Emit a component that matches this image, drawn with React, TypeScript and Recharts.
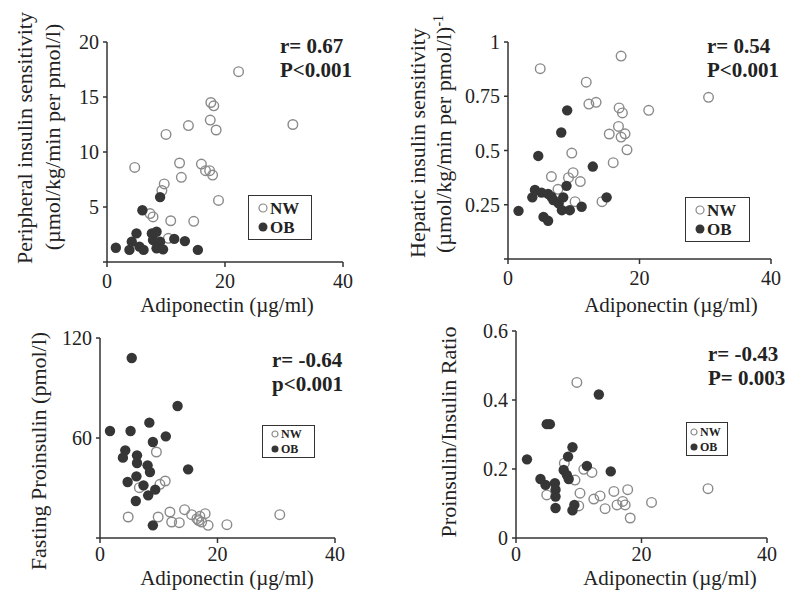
import React from "react";
import { ScatterChart, Scatter, XAxis, YAxis, Legend } from "recharts";

type Pt = [number, number];

// adiponectin (µg/ml) vs outcome
const xTicks = [0, 20, 40];

const periNW: Pt[] = [
  [22.3, 17.3], [17.6, 14.5], [18.1, 14.2], [17.5, 12.9], [18.5, 12.0], [31.5, 12.5],
  [13.8, 12.4], [10.0, 11.6], [4.7, 8.6], [12.3, 9.0], [12.6, 7.7], [16.0, 8.9],
  [16.7, 8.3], [17.4, 8.3], [17.9, 7.9], [9.7, 7.1], [9.3, 6.5], [18.9, 5.6],
  [7.3, 4.4], [7.8, 4.1], [10.8, 3.75], [14.7, 3.7], [10.4, 2.15],
];
const periOB: Pt[] = [
  [9.0, 5.9], [6.0, 4.7], [1.5, 1.3], [3.8, 1.1], [4.2, 1.85], [5.0, 2.6],
  [5.5, 1.4], [6.2, 1.1], [7.6, 2.6], [8.4, 2.75], [7.8, 2.0], [9.0, 1.85],
  [8.4, 1.25], [9.5, 1.15], [11.4, 2.1], [13.2, 1.9], [15.4, 1.1],
];
const periTicks = [0, 5, 10, 15, 20];

const hepNW: Pt[] = [
  [17.2, 0.935], [4.9, 0.877], [11.9, 0.815], [12.3, 0.714], [13.4, 0.722], [30.5, 0.745],
  [21.4, 0.685], [16.9, 0.696], [17.4, 0.673], [16.8, 0.611], [15.4, 0.576], [17.8, 0.577],
  [17.2, 0.562], [18.1, 0.503], [9.7, 0.488], [16.0, 0.444], [9.9, 0.398], [6.6, 0.38],
  [9.2, 0.375], [11.0, 0.357], [7.6, 0.321], [14.3, 0.264], [10.2, 0.264],
];
const hepOB: Pt[] = [
  [9.0, 0.685], [8.1, 0.583], [4.6, 0.475], [12.9, 0.426], [8.9, 0.337], [4.1, 0.318],
  [3.7, 0.284], [5.1, 0.306], [6.1, 0.3], [6.6, 0.287], [6.9, 0.272], [7.7, 0.256],
  [8.4, 0.284], [8.2, 0.225], [9.4, 0.225], [11.2, 0.241], [15.0, 0.284], [1.6, 0.222],
  [5.4, 0.194], [6.1, 0.176],
];
const hepTicks = [0, 0.25, 0.5, 0.75, 1];

const proNW: Pt[] = [
  [9.6, 51.6], [6.7, 30.2], [10.2, 32.2], [11.1, 34.2], [4.8, 12.6], [9.9, 12.6],
  [11.9, 15.6], [12.2, 9.6], [13.5, 9.2], [14.4, 17.0], [15.6, 14.0], [16.5, 11.6],
  [17.0, 13.0], [17.9, 14.6], [17.3, 9.6], [16.8, 10.5], [18.4, 7.6], [21.6, 8.0],
  [30.6, 14.0],
];
const proOB: Pt[] = [
  [5.4, 108], [13.2, 79.2], [1.7, 64.2], [5.2, 64.2], [8.4, 69.2], [11.2, 61.0],
  [9.0, 57.6], [4.3, 52.6], [3.9, 48.2], [6.3, 49.6], [6.3, 45.0], [8.1, 43.6],
  [8.5, 39.6], [15.0, 41.2], [6.2, 37.0], [4.7, 33.6], [7.4, 31.6], [9.4, 29.0],
  [8.2, 25.6], [6.1, 22.2], [9.0, 7.6],
];
const proTicks = [0, 60, 120];

const ratioNW: Pt[] = [
  [9.7, 0.451], [30.6, 0.143], [7.7, 0.217], [10.8, 0.199], [12.1, 0.19], [9.4, 0.168],
  [4.9, 0.125], [10.2, 0.13], [12.4, 0.113], [13.4, 0.122], [15.6, 0.135], [17.8, 0.14],
  [14.2, 0.085], [16.1, 0.096], [17.0, 0.106], [17.4, 0.096], [18.2, 0.058], [21.6, 0.103],
  [10.0, 0.093],
];
const ratioOB: Pt[] = [
  [13.2, 0.416], [5.4, 0.33], [4.9, 0.33], [9.0, 0.263], [8.3, 0.236], [1.75, 0.228],
  [11.3, 0.209], [15.1, 0.193], [7.6, 0.197], [8.1, 0.183], [8.4, 0.171], [3.9, 0.171],
  [4.7, 0.154], [6.2, 0.159], [6.3, 0.14], [6.3, 0.12], [6.3, 0.087], [9.3, 0.096],
  [9.0, 0.08],
];
const ratioTicks = [0, 0.2, 0.4, 0.6];

const FONT = '"Liberation Serif", "Times New Roman", serif';
const INK = "#222";
const NW_STROKE = "#8a8a8a";
const OB_FILL = "#363636";

const axisStyle = { stroke: "#333", strokeWidth: 1.5 };
const tickStyle = { fill: INK, fontSize: 20, fontFamily: FONT };

const hideZero = (v: number) => (v === 0 ? "" : String(v));

const openDot = (p: any) => (
  <circle cx={p.cx} cy={p.cy} r={4.8} fill="none" stroke={NW_STROKE} strokeWidth={1.4} />
);
const filledDot = (p: any) => (
  <circle cx={p.cx} cy={p.cy} r={5.2} fill={OB_FILL} />
);

type LegendBox = { left: number; top: number; width: number; height: number; font: number; row: number; r: number; padX: number };

const makeLegend = (lg: LegendBox) => (props: any) => {
  const items = (props.payload || []).map((e: any) => String(e.value));
  return (
    <div
      style={{
        width: lg.width,
        height: lg.height,
        boxSizing: "border-box",
        border: "1.5px solid #333",
        display: "flex",
        flexDirection: "column",
        justifyContent: "center",
        paddingLeft: lg.padX,
        fontFamily: FONT,
        fontWeight: "bold",
        fontSize: lg.font,
        color: INK,
      }}
    >
      {items.map((name: string) => (
        <div key={name} style={{ height: lg.row, display: "flex", alignItems: "center" }}>
          <svg width={lg.r * 2 + 2} height={lg.r * 2 + 2} style={{ marginRight: 2 }}>
            {name === "NW" ? (
              <circle cx={lg.r + 1} cy={lg.r + 1} r={lg.r} fill="none" stroke={NW_STROKE} strokeWidth={1.2} />
            ) : (
              <circle cx={lg.r + 1} cy={lg.r + 1} r={lg.r + 0.5} fill={OB_FILL} />
            )}
          </svg>
          <span style={{ lineHeight: 1 }}>{name}</span>
        </div>
      ))}
    </div>
  );
};

type PanelCfg = {
  left: number;
  top: number;
  width: number;
  height: number;
  margin: { top: number; right: number; bottom: number; left: number };
  nw: Pt[];
  ob: Pt[];
  yDomain: [number, number];
  yTicks: number[];
  yFmt: (v: number) => string;
  yLines: { text: string; sup?: string; x: number; y: number }[];
  xLabel: { x: number; y: number };
  xTickGap: number;
  note: { left: number; top: number; lines: string[] };
  legend: LegendBox;
};

const panels: PanelCfg[] = [
  {
    left: 0, top: 0, width: 393, height: 320,
    margin: { top: 42, right: 50, bottom: 18, left: 67 },
    nw: periNW, ob: periOB,
    yDomain: [0, 20], yTicks: periTicks, yFmt: hideZero,
    yLines: [
      { text: "Peripheral insulin sensitivity", x: 32, y: 138 },
      { text: "(µmol/kg/min per pmol/l)", x: 60, y: 137 },
    ],
    xLabel: { x: 227, y: 312 },
    xTickGap: 7,
    note: { left: 280, top: 34, lines: ["r= 0.67", "P<0.001"] },
    legend: { left: 248, top: 195, width: 64, height: 45, font: 17, row: 19, r: 4, padX: 9 },
  },
  {
    left: 393, top: 0, width: 394, height: 320,
    margin: { top: 42, right: 16, bottom: 21, left: 75 },
    nw: hepNW, ob: hepOB,
    yDomain: [0, 1], yTicks: hepTicks, yFmt: hideZero,
    yLines: [
      { text: "Hepatic insulin sensitivity", x: 32, y: 143 },
      { text: "(µmol/kg/min per pmol/l)", sup: "-1", x: 58, y: 134 },
    ],
    xLabel: { x: 278, y: 312 },
    xTickGap: 7,
    note: { left: 314, top: 34, lines: ["r= 0.54", "P<0.001"] },
    legend: { left: 292, top: 197, width: 65, height: 45, font: 17, row: 19, r: 4, padX: 9 },
  },
  {
    left: 0, top: 320, width: 393, height: 270,
    margin: { top: 18, right: 58, bottom: 12, left: 60 },
    nw: proNW, ob: proOB,
    yDomain: [0, 120], yTicks: proTicks, yFmt: hideZero,
    yLines: [{ text: "Fasting Proinsulin (pmol/l)", x: 46, y: 131 }],
    xLabel: { x: 227, y: 265 },
    xTickGap: 4,
    note: { left: 272, top: 28, lines: ["r= -0.64", "p<0.001"] },
    legend: { left: 262, top: 105, width: 53, height: 33, font: 12, row: 15, r: 3, padX: 8 },
  },
  {
    left: 393, top: 320, width: 394, height: 270,
    margin: { top: 11, right: 20, bottom: 12, left: 83 },
    nw: ratioNW, ob: ratioOB,
    yDomain: [0, 0.6], yTicks: ratioTicks, yFmt: (v) => String(v),
    yLines: [{ text: "Proinsulin/Insulin Ratio", x: 63, y: 112 }],
    xLabel: { x: 277, y: 265 },
    xTickGap: 4,
    note: { left: 315, top: 22, lines: ["r= -0.43", "P= 0.003"] },
    legend: { left: 293, top: 102, width: 42, height: 34, font: 12, row: 15, r: 3, padX: 3 },
  },
];

function Panel({ cfg }: { cfg: PanelCfg }) {
  const nw = cfg.nw.map(([x, y]) => ({ x, y }));
  const ob = cfg.ob.map(([x, y]) => ({ x, y }));

  const xLabel = () => (
    <text x={cfg.xLabel.x} y={cfg.xLabel.y} textAnchor="middle" fontSize={21} fontFamily={FONT} fill={INK}>
      Adiponectin (µg/ml)
    </text>
  );

  const yLabel = () => (
    <g>
      {cfg.yLines.map((l) => (
        <text
          key={l.text}
          x={l.x}
          y={l.y}
          transform={`rotate(-90, ${l.x}, ${l.y})`}
          textAnchor="middle"
          fontSize={22}
          fontFamily={FONT}
          fill={INK}
        >
          {l.text}
          {l.sup && (
            <tspan dy={-8} fontSize={14}>
              {l.sup}
            </tspan>
          )}
        </text>
      ))}
    </g>
  );

  return (
    <div style={{ position: "absolute", left: cfg.left, top: cfg.top, width: cfg.width, height: cfg.height }}>
      <ScatterChart width={cfg.width} height={cfg.height} margin={cfg.margin}>
        <XAxis
          type="number"
          dataKey="x"
          domain={[0, 40]}
          ticks={xTicks}
          interval={0}
          height={40}
          tick={tickStyle}
          tickSize={5}
          tickMargin={cfg.xTickGap}
          axisLine={axisStyle}
          tickLine={axisStyle}
          label={xLabel}
        />
        <YAxis
          type="number"
          dataKey="y"
          domain={cfg.yDomain}
          ticks={cfg.yTicks}
          interval={0}
          width={40}
          tick={tickStyle}
          tickFormatter={cfg.yFmt}
          tickSize={4}
          tickMargin={4}
          axisLine={axisStyle}
          tickLine={axisStyle}
          label={yLabel}
        />
        <Scatter name="NW" data={nw} shape={openDot} isAnimationActive={false} />
        <Scatter name="OB" data={ob} shape={filledDot} isAnimationActive={false} />
        <Legend
          layout="vertical"
          align="center"
          verticalAlign="middle"
          content={makeLegend(cfg.legend)}
          wrapperStyle={{ left: cfg.legend.left, top: cfg.legend.top, width: "auto", height: "auto" }}
        />
      </ScatterChart>
      <div
        style={{
          position: "absolute",
          left: cfg.note.left,
          top: cfg.note.top,
          fontFamily: FONT,
          fontWeight: "bold",
          fontSize: 21,
          lineHeight: "24px",
          color: INK,
          whiteSpace: "nowrap",
        }}
      >
        {cfg.note.lines.map((t) => (
          <div key={t}>{t}</div>
        ))}
      </div>
    </div>
  );
}

export default function App() {
  return (
    <div style={{ position: "absolute", left: 0, top: 0, width: 787, height: 590, background: "#fff", fontFamily: FONT }}>
      {panels.map((p, i) => (
        <Panel key={i} cfg={p} />
      ))}
    </div>
  );
}
